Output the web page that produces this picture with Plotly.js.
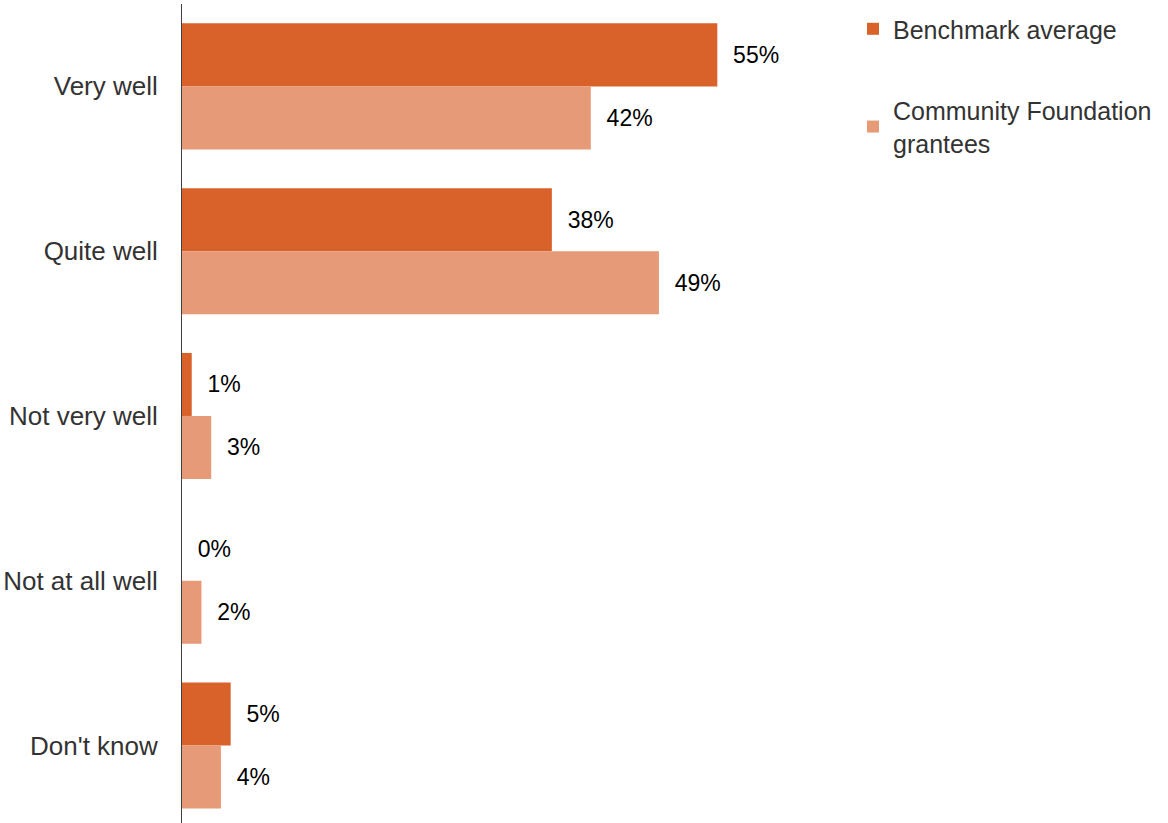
<!DOCTYPE html>
<html>
<head>
<meta charset="utf-8">
<script src="https://cdn.plot.ly/plotly-3.0.1.min.js"></script>
<style>html,body{margin:0;padding:0;background:#fff;}#chart{width:1168px;height:823px;}</style>
</head>
<body>
<div id="chart"></div>
<script>
const categories = ["Very well", "Quite well", "Not very well", "Not at all well", "Don't know"];
const benchmarkValues = [55, 38, 1, 0, 5];
const communityValues = [42, 49, 3, 2, 4];
const seriesNames = ["Benchmark average", "Community Foundation<br>grantees"];
const seriesColors = ["#D9622B", "#E69A77"];

const labelFont = {family: "Liberation Sans, Arial, sans-serif", size: 23, color: "#000000"};

const traces = [benchmarkValues, communityValues].map((vals, i) => ({
  type: "bar",
  orientation: "h",
  name: seriesNames[i],
  legendgroup: "g" + i,
  x: vals,
  y: categories,
  marker: {color: seriesColors[i]},
  texttemplate: "\u00a0\u00a0%{x}%",
  textposition: "outside",
  cliponaxis: false,
  textfont: labelFont,
  hoverinfo: "skip"
}));

const layout = {
  width: 1168,
  height: 823,
  margin: {l: 182, r: 402, t: 4, b: 0, pad: 0},
  paper_bgcolor: "#ffffff",
  plot_bgcolor: "#ffffff",
  barmode: "group",
  bargap: 0.235,
  bargroupgap: 0,
  font: {family: "Liberation Sans, Arial, sans-serif", color: "#333333"},
  xaxis: {
    range: [0, 60],
    showgrid: false,
    zeroline: false,
    showline: false,
    showticklabels: false,
    ticks: ""
  },
  yaxis: {
    type: "category",
    range: [4.47, -0.5],
    showgrid: false,
    zeroline: false,
    showline: true,
    linecolor: "#404040",
    linewidth: 1,
    ticks: "",
    ticklabelstandoff: 18,
    tickfont: {family: "Liberation Sans, Arial, sans-serif", size: 26, color: "#333333"}
  },
  showlegend: true,
  legend: {
    x: 1.149,
    xanchor: "left",
    y: 0.9975,
    yanchor: "top",
    traceorder: "grouped",
    tracegroupgap: 46,
    font: {family: "Liberation Sans, Arial, sans-serif", size: 25, color: "#333333"},
    bgcolor: "rgba(0,0,0,0)",
    itemclick: false
  }
};

Plotly.newPlot("chart", traces, layout, {displayModeBar: false, staticPlot: true});
</script>
</body>
</html>
